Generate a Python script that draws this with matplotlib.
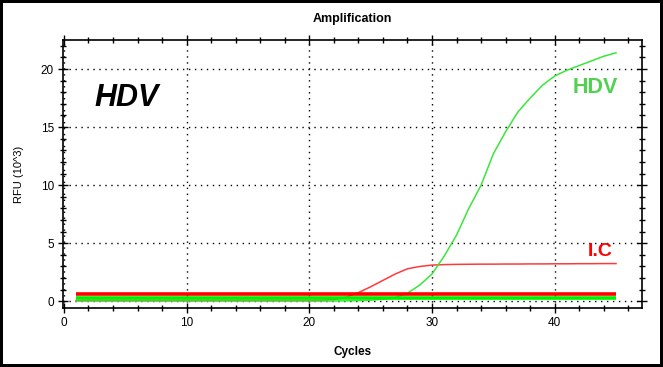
import matplotlib.pyplot as plt

plt.rcParams["font.family"] = ["Liberation Sans", "DejaVu Sans"]

# amplification curves, RFU in thousands, one value per cycle
cycles = list(range(1, 46))
hdv_rfu = [0.02, 0.02, 0.02, 0.02, 0.02, 0.02, 0.02, 0.02, 0.02, 0.02,
           0.02, 0.02, 0.02, 0.02, 0.02, 0.02, 0.02, 0.02, 0.02, 0.02,
           0.02, 0.03, 0.04, 0.06, 0.1, 0.18, 0.32, 0.7, 1.4, 2.35,
           3.9, 5.7, 8.0, 10.0, 12.7, 14.6, 16.3, 17.5, 18.6, 19.4,
           19.9, 20.3, 20.7, 21.1, 21.4]
ic_rfu = [0.08, 0.08, 0.08, 0.08, 0.08, 0.08, 0.08, 0.08, 0.08, 0.08,
          0.08, 0.08, 0.08, 0.08, 0.08, 0.08, 0.08, 0.08, 0.08, 0.08,
          0.1, 0.15, 0.35, 0.75, 1.25, 1.8, 2.35, 2.8, 3.0, 3.12,
          3.16, 3.18, 3.19, 3.2, 3.2, 3.21, 3.21, 3.22, 3.22, 3.23,
          3.23, 3.24, 3.24, 3.25, 3.25]
thr_cycles = [1, 45]
ic_threshold = [0.62, 0.62]
hdv_threshold = [0.25, 0.25]

x_ticks = [0, 10, 20, 30, 40]
y_ticks = [0, 5, 10, 15, 20]


def main():
    fig = plt.figure(figsize=(6.63, 3.67), dpi=100)
    fig.patch.set_edgecolor("black")
    fig.patch.set_linewidth(4.3)
    ax = fig.add_axes([0.0946, 0.160, 0.8734, 0.731])

    ax.plot(cycles, ic_rfu, color="#ff3a3a", lw=1.1, zorder=3)
    ax.plot(cycles, hdv_rfu, color="#3ae63a", lw=1.1, zorder=3)
    ax.plot(thr_cycles, ic_threshold, color="#ff0000", lw=2.6,
            solid_capstyle="butt", zorder=4)
    ax.plot(thr_cycles, hdv_threshold, color="#00f000", lw=2.6,
            solid_capstyle="butt", zorder=4)

    ax.set_xlim(-0.1, 47.1)
    ax.set_ylim(-0.6, 22.5)
    ax.set_xticks(x_ticks)
    ax.set_yticks(y_ticks)
    ax.set_xticks(range(0, 47, 2), minor=True)
    ax.set_yticks(range(0, 23), minor=True)

    ax.tick_params(which="both", direction="inout", labelsize=8.5,
                   top=True, right=True, width=1)
    ax.tick_params(which="major", length=6.5, pad=3)
    ax.tick_params(which="minor", length=4.3)
    ax.grid(True, which="major", color="black", lw=1.0,
            linestyle=(0, (1, 3.3)))
    for s in ax.spines.values():
        s.set_linewidth(1.2)

    ax.set_title("Amplification", fontsize=9, fontweight="bold", pad=13)
    ax.set_xlabel("Cycles", fontsize=8.5, fontweight="bold", labelpad=12)
    ax.set_ylabel("RFU (10^3)", fontsize=8, labelpad=12)

    ax.text(0.055, 17.5, "HDV", transform=ax.get_yaxis_transform(),
            fontsize=22, fontweight="bold", fontstyle="italic",
            color="black", ha="left", va="center")
    ax.text(43.3, 18.45, "HDV", fontsize=15.5, fontweight="bold",
            color="#4fd24f", ha="center", va="center")
    ax.text(43.7, 4.3, "I.C", fontsize=14, fontweight="bold",
            color="#ff0000", ha="center", va="center")

    fig.savefig("out.png", dpi=100, edgecolor=fig.get_edgecolor())


if __name__ == "__main__":
    main()
